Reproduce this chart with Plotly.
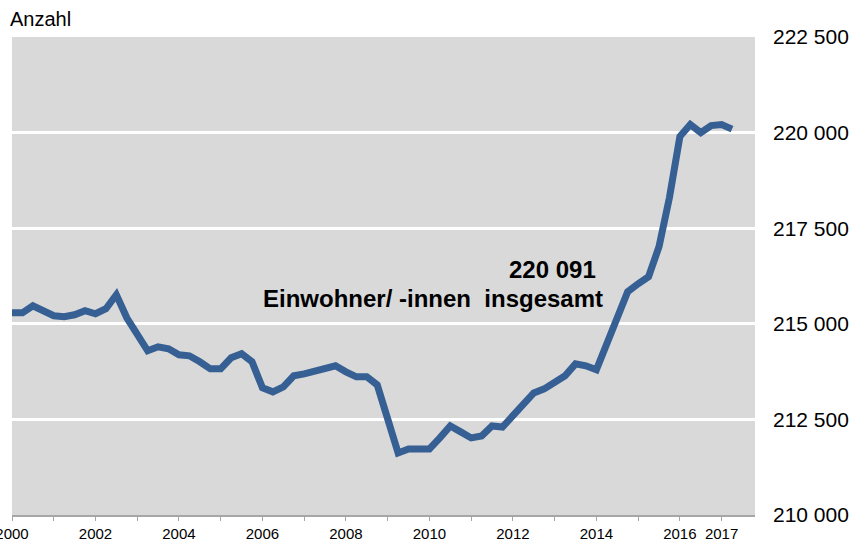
import plotly.graph_objects as go

# Quarterly population figures (Q1 2000 .. Q2 2017)
quarters = [f"{y}Q{q}" for y in range(2000, 2018) for q in range(1, 5)][:70]
population = [
    215288, 215288, 215472, 215315, 215210, 215184, 215236, 215341,
    215262, 215393, 215760, 215157, 214712, 214294, 214398, 214346,
    214189, 214163, 214006, 213822, 213822, 214110, 214215, 214006,
    213325, 213220, 213351, 213639, 213691, 213770, 213822, 213901,
    213744, 213613, 213613, 213403, 212513, 211623, 211728, 211728,
    211728, 212016, 212330, 212173, 212016, 212068, 212330, 212300,
    212618, 212932, 213194, 213299, 213482, 213639, 213953, 213901,
    213796, 214451, 215210, 215838, 216048, 216231, 217016, 218300,
    219896, 220210, 220000, 220184, 220210, 220091,
]
x_vals = [int(q[:4]) + (int(q[-1]) - 1) * 0.25 for q in quarters]

x_tickvals = list(range(2000, 2018))
x_ticktext = ["2000", "", "2002", "", "2004", "", "2006", "", "2008", "",
              "2010", "", "2012", "", "2014", "", "2016", "2017"]
y_tickvals = [210000, 212500, 215000, 217500, 220000, 222500]
y_ticktext = ["210 000", "212 500", "215 000", "217 500", "220 000", "222 500"]

series_label = "Einwohner/ -innen\u00a0\u00a0insgesamt"
last_value_text = f"{population[-1]:,}".replace(",", " ")

FONT = "Liberation Sans, Arial, sans-serif"

fig = go.Figure()
fig.add_trace(go.Scatter(
    x=x_vals, y=population, mode="lines",
    line=dict(color="#365f93", width=7),
    hoverinfo="skip", showlegend=False,
))

fig.update_layout(
    width=853, height=540,
    margin=dict(l=12, r=98, t=37, b=25),
    paper_bgcolor="white",
    plot_bgcolor="#d9d9d9",
    font=dict(family=FONT, color="black"),
    showlegend=False,
    xaxis=dict(
        range=[2000, 2017.8],
        tickvals=x_tickvals, ticktext=x_ticktext,
        tickfont=dict(size=15, family=FONT),
        showgrid=False, zeroline=False,
        showline=True, linecolor="#a6a6a6", linewidth=1.5,
        ticks="outside", ticklen=4, tickcolor="#a6a6a6", tickwidth=1,
        ticklabelstandoff=0,
        automargin=False, ticklabeloverflow="allow",
    ),
    yaxis=dict(
        side="right",
        range=[210000, 222500],
        tickvals=y_tickvals, ticktext=y_ticktext,
        tickfont=dict(size=21, family=FONT),
        showgrid=True, gridcolor="white", gridwidth=3,
        zeroline=False, showline=False,
        ticks="", ticklabelstandoff=17,
        automargin=False, ticklabeloverflow="allow",
    ),
    annotations=[
        dict(text="Anzahl", xref="paper", yref="paper",
             x=-0.006, y=1.037, xanchor="left", yanchor="middle",
             showarrow=False, font=dict(size=20, family=FONT)),
        dict(text=f"<b>{last_value_text}</b>", xref="paper", yref="paper",
             x=0.789, y=0.513, xanchor="right", yanchor="middle",
             showarrow=False, font=dict(size=24, family=FONT)),
        dict(text=f"<b>{series_label}</b>", xref="paper", yref="paper",
             x=0.798, y=0.452, xanchor="right", yanchor="middle",
             showarrow=False, font=dict(size=24, family=FONT)),
    ],
)

fig.write_html(
    "out.html",
    config={"displayModeBar": False},
    post_script="document.body.style.margin='0';document.body.style.overflow='hidden';",
)
